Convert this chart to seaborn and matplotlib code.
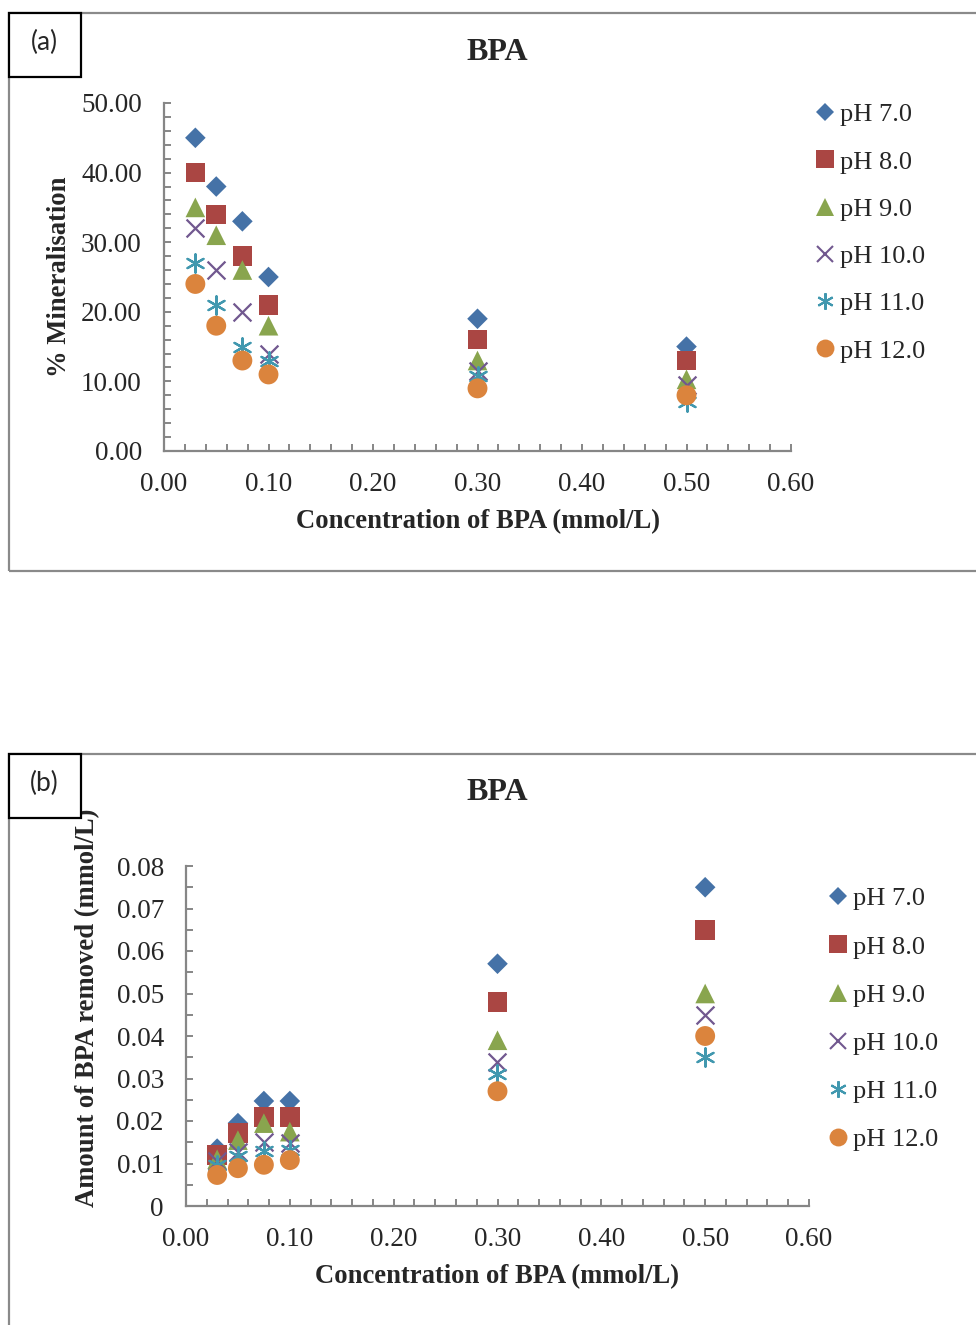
import numpy as np
import pandas as pd
import matplotlib
matplotlib.use("Agg")
import matplotlib.pyplot as plt
import seaborn as sns
from matplotlib.patches import Rectangle
from matplotlib.lines import Line2D
from matplotlib.ticker import MultipleLocator, FuncFormatter

# ---------------- data ----------------
conc = [0.03, 0.05, 0.075, 0.10, 0.30, 0.50]
series = ["pH 7.0", "pH 8.0", "pH 9.0", "pH 10.0", "pH 11.0", "pH 12.0"]

mineral_ph7 = [45, 38, 33, 25, 19, 15]
mineral_ph8 = [40, 34, 28, 21, 16, 13]
mineral_ph9 = [35, 31, 26, 18, 13, 10.3]
mineral_ph10 = [32, 26, 20, 14, 11.5, 9.5]
mineral_ph11 = [27, 21, 15, 13, 10.8, 7]
mineral_ph12 = [24, 18, 13, 11, 9, 8]

removed_ph7 = [0.0135, 0.0195, 0.0247, 0.0247, 0.057, 0.075]
removed_ph8 = [0.012, 0.0172, 0.021, 0.021, 0.048, 0.065]
removed_ph9 = [0.011, 0.0155, 0.0195, 0.0175, 0.039, 0.050]
removed_ph10 = [0.0105, 0.0127, 0.015, 0.0148, 0.034, 0.045]
removed_ph11 = [0.0097, 0.0118, 0.013, 0.0132, 0.031, 0.035]
removed_ph12 = [0.0073, 0.0089, 0.0097, 0.0108, 0.027, 0.040]

mineral = [mineral_ph7, mineral_ph8, mineral_ph9, mineral_ph10, mineral_ph11, mineral_ph12]
removed = [removed_ph7, removed_ph8, removed_ph9, removed_ph10, removed_ph11, removed_ph12]

# ---------------- style ----------------
colors = ["#4572A7", "#AA4643", "#89A54E", "#71588F", "#4198AF", "#DB843D"]
markers = ["D", "s", "^", "x", (6, 2, 0), "o"]
sizes = [110, 200, 200, 165, 175, 205]
filled = [True, True, True, False, False, True]

sns.set_style("white")
plt.rcParams["font.family"] = ["Liberation Serif", "DejaVu Serif"]

W, H = 976, 1325
fig = plt.figure(figsize=(W / 100, H / 100), dpi=100)

spine_col = "#868686"
TICK_FS = 19.5
LABEL_FS = 19.2
TITLE_FS = 23
LEG_FS = 19


def px_axes(l, t, r, b):
    return fig.add_axes([l / W, 1 - b / H, (r - l) / W, (b - t) / H])


def long_df(values):
    rows = []
    for name, vals in zip(series, values):
        for c, v in zip(conc, vals):
            rows.append({"conc": c, "value": v, "pH": name})
    return pd.DataFrame(rows)


def draw_panel(ax, values, ymax, ymajor, yminor, yfmt):
    df = long_df(values)
    for i, name in enumerate(series):
        sub = df[df["pH"] == name]
        if filled[i]:
            sns.scatterplot(data=sub, x="conc", y="value", ax=ax, color=colors[i],
                            marker=markers[i], s=sizes[i], linewidth=0,
                            edgecolor="none", legend=False, zorder=3, clip_on=False)
        else:
            sns.scatterplot(data=sub, x="conc", y="value", ax=ax, color=colors[i],
                            marker=markers[i], s=sizes[i], linewidth=1.6,
                            legend=False, zorder=3, clip_on=False)
    ax.set_xlim(0, 0.6)
    ax.set_ylim(0, ymax)
    ax.xaxis.set_major_locator(MultipleLocator(0.1))
    ax.xaxis.set_minor_locator(MultipleLocator(0.02))
    ax.yaxis.set_major_locator(MultipleLocator(ymajor))
    ax.yaxis.set_minor_locator(MultipleLocator(yminor))
    ax.xaxis.set_major_formatter(FuncFormatter(lambda v, p: f"{v:.2f}"))
    ax.yaxis.set_major_formatter(FuncFormatter(yfmt))
    for s in ["top", "right"]:
        ax.spines[s].set_visible(False)
    for s in ["left", "bottom"]:
        ax.spines[s].set_color(spine_col)
        ax.spines[s].set_linewidth(1.6)
    ax.tick_params(which="both", direction="in", color=spine_col, width=1.4,
                   length=5, labelsize=TICK_FS, bottom=True, left=True)
    ax.tick_params(axis="x", which="major", pad=15)
    ax.tick_params(axis="y", which="major", pad=16)
    ax.grid(False)


def add_legend(ax, x, y, spacing):
    handles = []
    for i, name in enumerate(series):
        handles.append(Line2D([], [], linestyle="none", marker=markers[i],
                              color=colors[i], markersize=np.sqrt(sizes[i]) * 0.9,
                              markeredgewidth=(1.5 if not filled[i] else 0),
                              label=name))
    ax.legend(handles=handles, loc="upper left", bbox_to_anchor=(x, y),
              frameon=False, fontsize=LEG_FS, handlelength=0.6, handletextpad=0.28,
              labelspacing=spacing, borderpad=0, borderaxespad=0)


# ---------------- frames ----------------
fig.add_artist(Rectangle((9 / W, 1 - 571 / H), (990 - 9) / W, (571 - 13) / H,
                         transform=fig.transFigure, fill=False, ec="#8a8a8a", lw=1.6))
fig.add_artist(Rectangle((9 / W, 1 - 1340 / H), (990 - 9) / W, (1340 - 754) / H,
                         transform=fig.transFigure, fill=False, ec="#8a8a8a", lw=1.6))

# ---------------- panel (a) ----------------
ax1 = px_axes(164, 103, 791, 451)
draw_panel(ax1, mineral, 50, 10, 2, lambda v, p: f"{v:.2f}")
ax1.set_xlabel("Concentration of BPA (mmol/L)", fontsize=LABEL_FS, fontweight="bold")
ax1.set_ylabel("% Mineralisation", fontsize=LABEL_FS, fontweight="bold")
ax1.xaxis.set_label_coords(0.5, (451 - 522) / 348)
ax1.xaxis.label.set_va("center")
ax1.yaxis.set_label_coords((60 - 164) / 627, 0.5)
ax1.yaxis.label.set_va("center")
ax1.set_title("BPA", fontsize=TITLE_FS, fontweight="bold", x=(497 - 164) / 627,
              y=1 + (103 - 52) / 348, va="center", pad=0)
add_legend(ax1, (817 - 164) / 627, (451 - 103) / 348, 0.9)

# ---------------- panel (b) ----------------
ax2 = px_axes(186, 866, 809, 1206)
draw_panel(ax2, removed, 0.08, 0.01, 0.005,
           lambda v, p: "0" if abs(v) < 1e-12 else f"{v:.2f}")
ax2.set_xlabel("Concentration of BPA (mmol/L)", fontsize=LABEL_FS, fontweight="bold")
ax2.set_ylabel("Amount of BPA removed (mmol/L)", fontsize=LABEL_FS, fontweight="bold")
ax2.xaxis.set_label_coords(0.5, (1206 - 1277) / 340)
ax2.xaxis.label.set_va("center")
ax2.yaxis.set_label_coords((88 - 186) / 623, (1206 - 1008) / 340)
ax2.yaxis.label.set_va("center")
ax2.set_title("BPA", fontsize=TITLE_FS, fontweight="bold", x=(497 - 186) / 623,
              y=1 + (866 - 793) / 340, va="center", pad=0)
add_legend(ax2, (830 - 186) / 623, (1206 - 887) / 340, 0.935)

# ---------------- panel label boxes ----------------
for (t, y0) in [("(a)", 13), ("(b)", 754)]:
    fig.add_artist(Rectangle((9 / W, 1 - (y0 + 64) / H), 72 / W, 64 / H,
                             transform=fig.transFigure, fc="white", ec="black",
                             lw=1.6, zorder=5))
    fig.text(44 / W, 1 - (y0 + 29) / H, t, ha="center", va="center",
             fontsize=19, family=["Lato", "DejaVu Sans"], zorder=6)

fig.savefig("out.png", dpi=100)
